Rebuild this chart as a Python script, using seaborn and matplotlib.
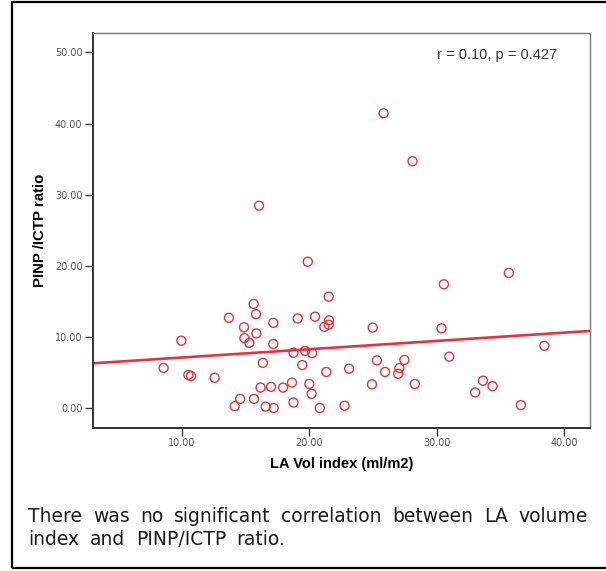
import matplotlib
matplotlib.use("Agg")
import matplotlib.pyplot as plt
import seaborn as sns
import pandas as pd
from matplotlib.patches import Rectangle

# values
la_vol_index = [25.82, 28.09, 16.06, 19.88, 35.64, 30.55, 21.52, 15.64, 15.82, 13.70,
                19.09, 20.45, 21.55, 17.18, 21.52, 21.18, 14.88, 24.97, 30.36, 15.85,
                9.97, 14.91, 15.30, 17.18, 38.42, 18.76, 19.67, 20.21, 30.97, 16.36,
                19.45, 25.30, 27.45, 8.58, 23.12, 27.06, 21.33, 25.94, 26.96, 10.52,
                10.73, 12.58, 18.64, 20.00, 24.91, 28.27, 33.61, 16.18, 17.00, 17.94,
                34.36, 20.18, 33.00, 14.58, 15.67, 18.76, 14.15, 16.58, 17.21, 20.82,
                22.76, 36.58]
pinp_ictp_ratio = [41.45, 34.70, 28.45, 20.57, 18.99, 17.40, 15.66, 14.64, 13.20, 12.69,
                   12.59, 12.85, 12.33, 11.98, 11.72, 11.41, 11.36, 11.31, 11.21, 10.49,
                   9.47, 9.83, 9.16, 9.01, 8.75, 7.78, 8.03, 7.73, 7.22, 6.35,
                   6.04, 6.70, 6.76, 5.63, 5.53, 5.63, 5.07, 5.07, 4.81, 4.66,
                   4.50, 4.25, 3.58, 3.38, 3.33, 3.38, 3.84, 2.87, 2.97, 2.87,
                   3.07, 2.00, 2.20, 1.28, 1.28, 0.77, 0.26, 0.20, 0.00, 0.00,
                   0.31, 0.41]
x_ticks = [10, 20, 30, 40]
y_ticks = [0, 10, 20, 30, 40, 50]
stat_label = "r = 0.10, p = 0.427"
x_label = "LA Vol index (ml/m2)"
y_label = "PINP /ICTP ratio"
caption_lines = ["There was no significant correlation between LA volume",
                 "index and PINP/ICTP ratio."]

W, H = 606, 571
red = "#e8323b"

sns.set_style("ticks")
plt.rcParams["font.family"] = ["DejaVu Sans"]

df = pd.DataFrame({"la_vol": la_vol_index, "ratio": pinp_ictp_ratio})

fig = plt.figure(figsize=(W / 100, H / 100), dpi=100)
ax = fig.add_axes([92.8 / W, 1 - 428 / H, (589.5 - 92.8) / W, (428 - 32.7) / H])
ax.set_xlim(3.03, 41.96)
ax.set_ylim(-2.81, 52.78)

sns.regplot(data=df, x="la_vol", y="ratio", ax=ax, ci=None, truncate=False, color=red,
            scatter_kws={"facecolors": "none", "s": 42, "linewidths": 1.0, "alpha": 1},
            line_kws={"linewidth": 1.9})
ax.set_xlim(3.03, 41.96)
ax.set_ylim(-2.81, 52.78)

ax.set_xticks(x_ticks)
ax.set_xticklabels([f"{v:.2f}" for v in x_ticks])
ax.set_yticks(y_ticks)
ax.set_yticklabels([f"{v:.2f}" for v in y_ticks])
ax.tick_params(direction="out", length=5.5, width=1.0, color="#333333",
               labelsize=7, labelcolor="#555555", pad=2)

for side in ["left", "bottom"]:
    ax.spines[side].set_color("#333333")
    ax.spines[side].set_linewidth(1.4)
for side in ["top", "right"]:
    ax.spines[side].set_visible(True)
    ax.spines[side].set_color("#777777")
    ax.spines[side].set_linewidth(1.0)

ax.set_xlabel(x_label, fontsize=10.5, fontweight="bold", family="Liberation Sans",
              color="black")
ax.set_ylabel(y_label, fontsize=10.8, fontweight="bold", family="Liberation Sans",
              color="black")
ax.xaxis.set_label_coords(0.502, (428 - 464) / (428 - 32.7))
ax.xaxis.label.set_verticalalignment("center")
ax.yaxis.set_label_coords((40 - 92.8) / (589.5 - 92.8), 0.5)
ax.yaxis.label.set_verticalalignment("center")

ax.text(0.935, 0.944, stat_label, transform=ax.transAxes, ha="right", va="center",
        fontsize=10.5, color="#333333", family="Liberation Sans")

# outer frame of the figure panel
fig.patches.append(Rectangle((12 / W, 1 - 568 / H), (620 - 12) / W, (568 - 1.5) / H,
                             transform=fig.transFigure, fill=False, edgecolor="black",
                             linewidth=1.6, clip_on=False))

# caption, first line justified between the panel margins
renderer = fig.canvas.get_renderer()


def put_words(line, y_px, x0_px, x1_px=None, gap_px=10.5):
    words = line.split()
    texts = [fig.text(0, 1 - y_px / H, w, fontsize=13.5, color="#1a1a1a", va="baseline")
             for w in words]
    widths = [t.get_window_extent(renderer).width for t in texts]
    if x1_px is not None:
        gap_px = (x1_px - x0_px - sum(widths)) / (len(words) - 1)
    x = x0_px
    for t, w in zip(texts, widths):
        t.set_x(x / W)
        x += w + gap_px
    return gap_px


gap = put_words(caption_lines[0], 521.7, 28.3, 587.5)
put_words(caption_lines[1], 545.0, 28.3, gap_px=gap)

fig.savefig("out.png", dpi=100)
plt.close(fig)
